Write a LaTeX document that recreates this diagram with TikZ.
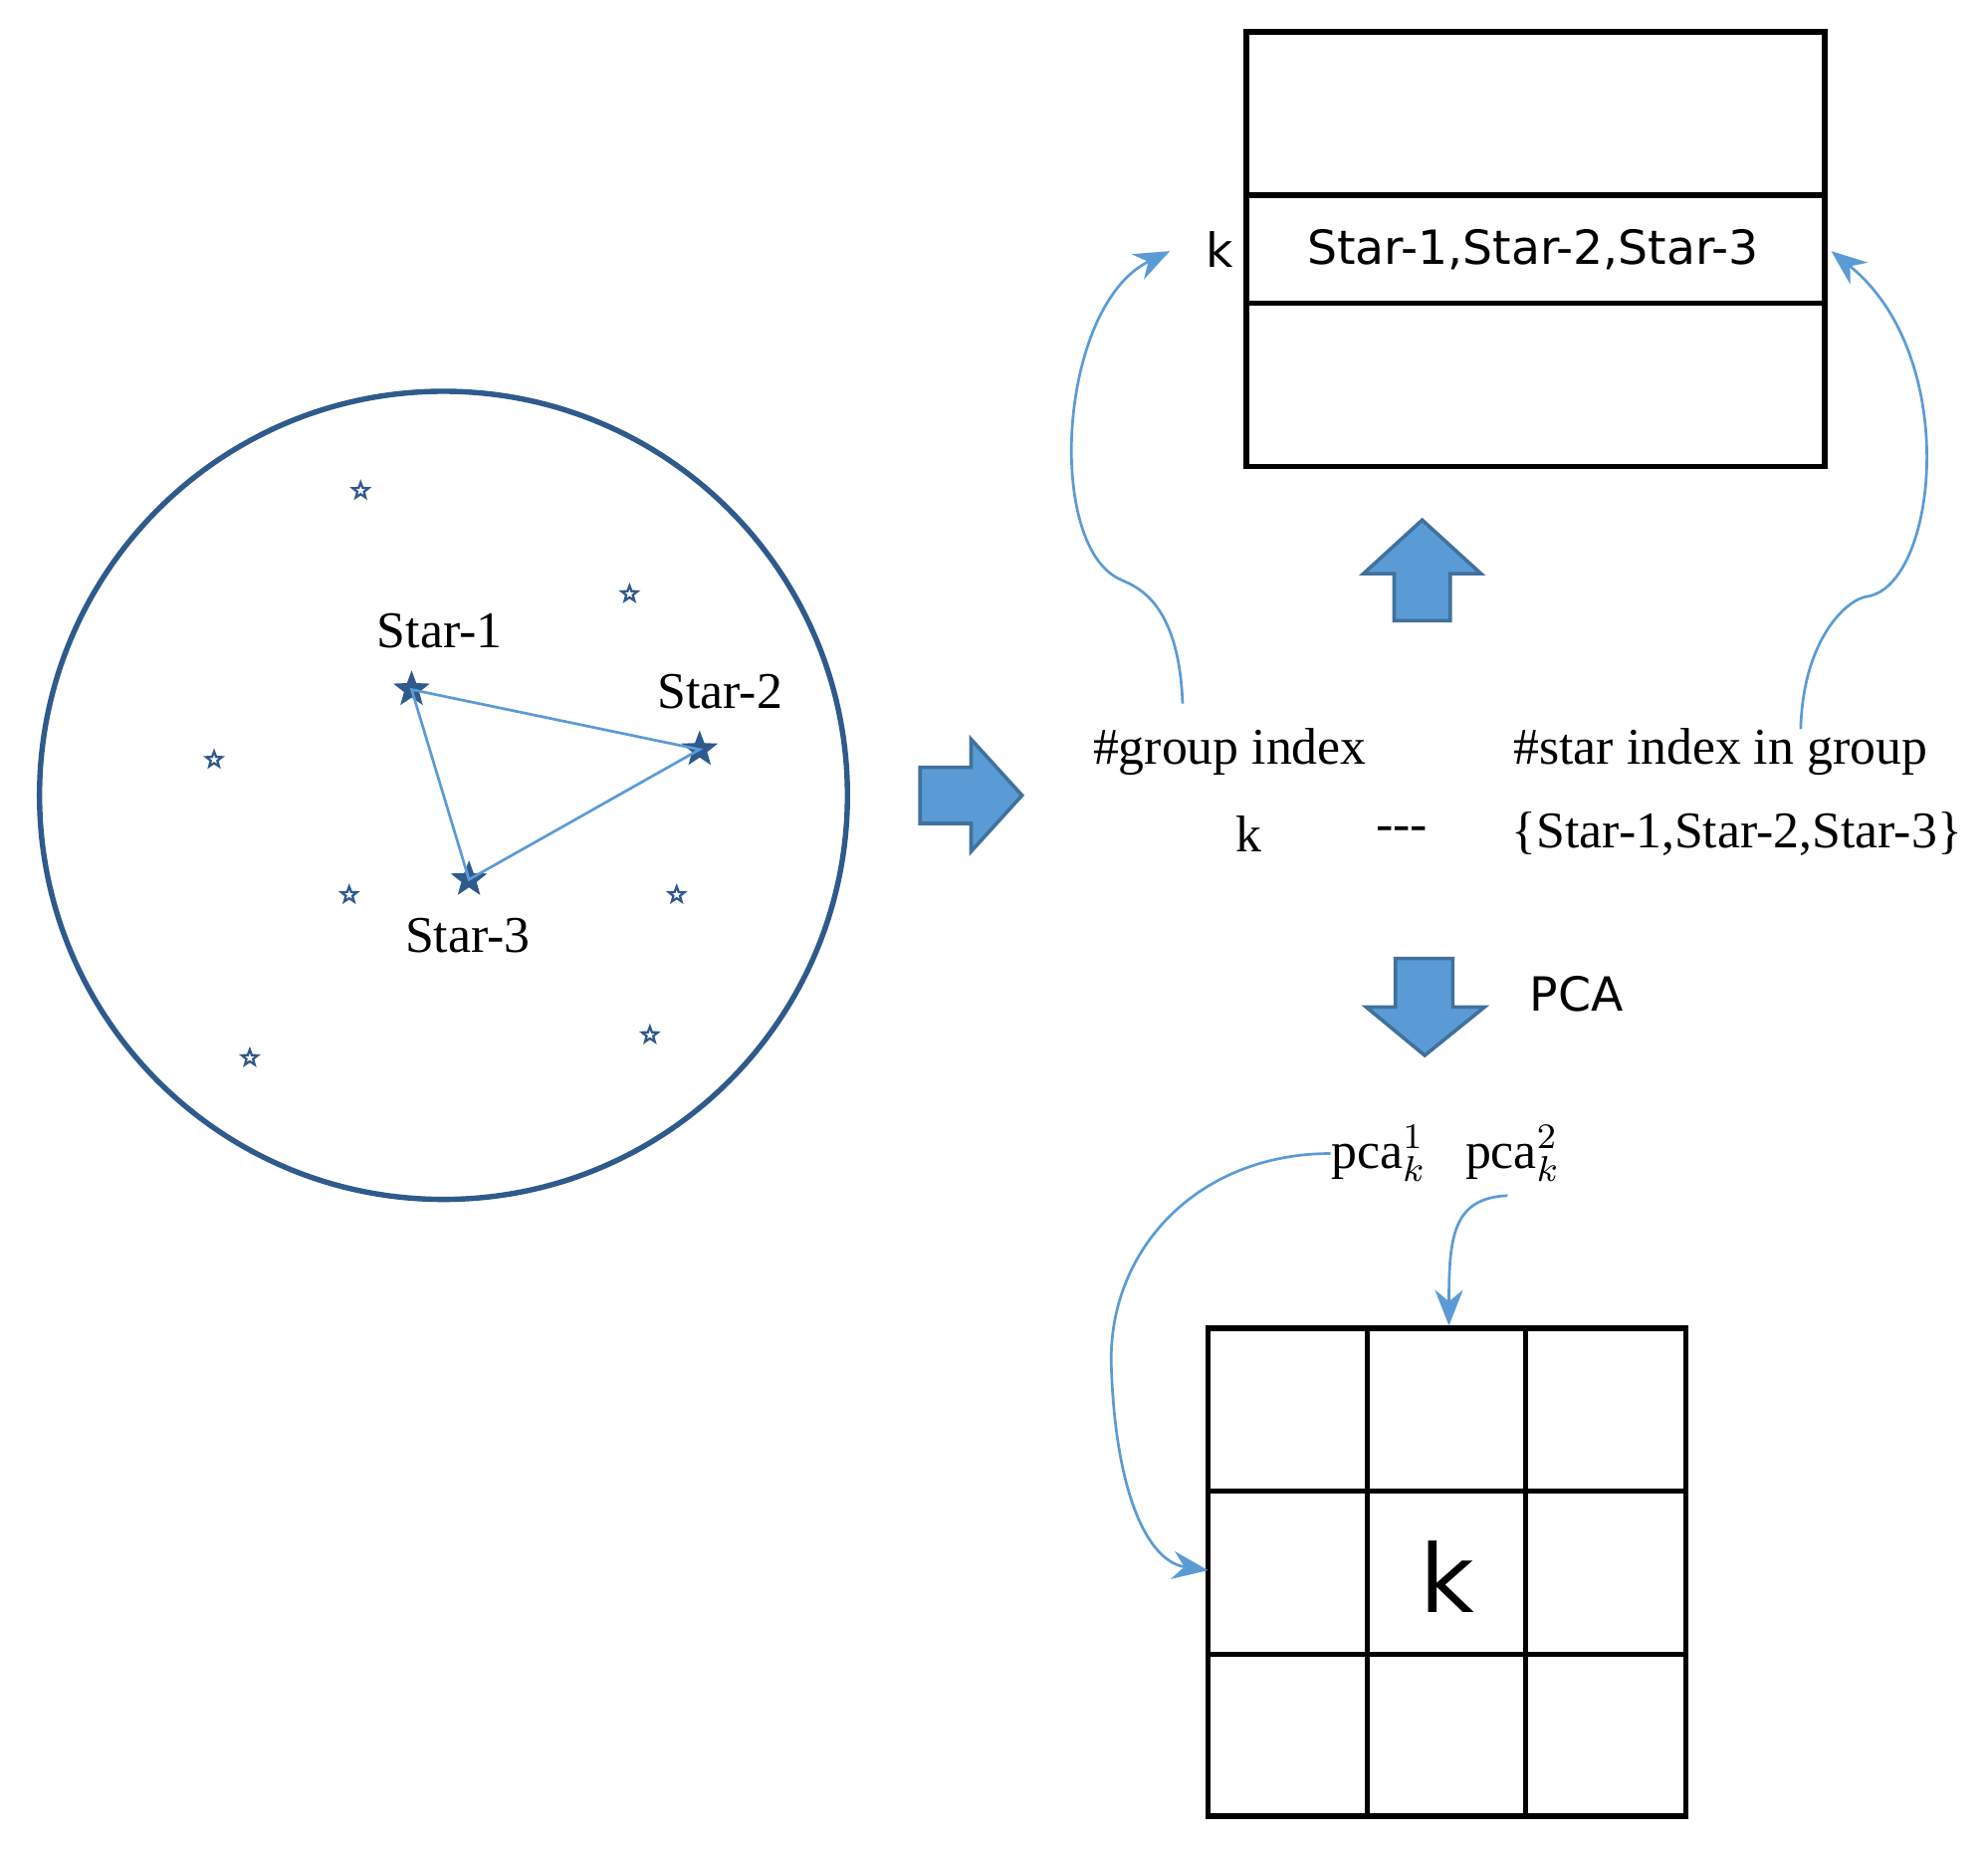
\documentclass[tikz,border=0pt]{standalone}
\usepackage{fontspec}
\setmainfont{Liberation Serif}
\newfontfamily\sansf{DejaVu Sans}
\usetikzlibrary{arrows.meta,shapes.geometric}
\definecolor{cdark}{RGB}{46,90,140}
\definecolor{clight}{RGB}{91,155,213}
\definecolor{cedge}{RGB}{65,113,156}
\tikzset{
 lbl/.style={font=\fontsize{11.5}{13}\selectfont, inner sep=0pt},
 slbl/.style={font=\sansf\fontsize{10.5}{12}\selectfont, inner sep=0pt},
 ostar/.style={star, star points=5, star point ratio=2.4, draw=cdark, line width=0.5pt, minimum size=0.13cm, inner sep=0pt},
 fstar/.style={star, star points=5, star point ratio=2.4, draw=cdark, fill=cdark, minimum size=0.26cm, inner sep=0pt},
 tri/.style={draw=clight, line width=0.6pt},
 curv/.style={draw=clight, line width=0.6pt, -{Stealth[length=0.28cm,width=0.22cm]}},
 blk/.style={fill=clight, draw=cedge, line width=0.8pt},
 gridl/.style={line width=1.2pt}
}
\begin{document}
\begin{tikzpicture}[x=0.01cm,y=-0.01cm]
\useasboundingbox (0,0) rectangle (1560,1452);
\draw[cdark, line width=1.2pt] (348,624) circle [radius=317];
\foreach \p [count=\i] in {(283,385),(494,466),(168,596),(274,702),(531,702),(510,812),(196,830)}
  \node[ostar] (o\i) at \p {};
\node[fstar] (s1) at (323,541) {};
\node[fstar] (s2) at (549,588) {};
\node[fstar] (s3) at (368,690) {};
\draw[tri] (s1.center) -- (s2.center) -- (s3.center) -- cycle;
\node[lbl] (l1) at (345,495) {Star-1};
\node[lbl] (l2) at (565,543) {Star-2};
\node[lbl] (l3) at (367,734) {Star-3};
\draw[blk] (722,602) -- (762,602) -- (762,580) -- (802,624) -- (762,668) -- (762,646) -- (722,646) -- cycle;
\draw[gridl] (978,25) rectangle (1432,366);
\draw[gridl] (978,153) -- (1432,153) (978,238) -- (1432,238);
\node[slbl] (tt) at (1203,196) {Star-1,Star-2,Star-3};
\node[slbl] (tk) at (957,196) {k};
\draw[blk] (1094,487) -- (1094,450) -- (1070,450) -- (1116,408) -- (1162,450) -- (1138,450) -- (1138,487) -- cycle;
\node[lbl] (gi) at (965,590) {\#group index};
\node[lbl] (si) at (1350,590) {\#star index in group};
\node[lbl] (kk) at (980,654) {k};
\node[lbl] (dd) at (1100,654) {{-}{-}{-}};
\node[lbl] (ss) at (1363,654) {\{Star-1,Star-2,Star-3\}};
\coordinate (la) at (918,197);
\coordinate (ra) at (1437,197);
\draw[curv] (928,552) .. controls (925,470) and (890,460) .. (880,455) .. controls (820,430) and (830,240) .. (la);
\draw[curv] (1413,572) .. controls (1415,500) and (1450,470) .. (1465,468) .. controls (1520,460) and (1540,280) .. (ra);
\draw[blk] (1095,752) -- (1140,752) -- (1140,790) -- (1165,790) -- (1118,828) -- (1072,790) -- (1095,790) -- cycle;
\node[slbl] (pca) at (1237,780) {PCA};
\node[lbl] (p1) at (1082,905) {pca$_k^1$};
\node[lbl] (p2) at (1187,905) {pca$_k^2$};
\draw[gridl] (948,1042) rectangle (1323,1425);
\draw[gridl] (1073,1042) -- (1073,1425) (1197,1042) -- (1197,1425)
 (948,1170) -- (1323,1170) (948,1298) -- (1323,1298);
\node[font=\sansf\fontsize{21}{24}\selectfont, inner sep=0pt] (gk) at (1136,1237) {k};
\coordinate (ga) at (948,1232);
\coordinate (gb) at (1137,1040);
\draw[curv] (p1.west) .. controls (940,905) and (870,980) .. (872,1070) .. controls (875,1170) and (900,1225) .. (ga);
\draw[curv] (1183,938) .. controls (1140,940) and (1137,970) .. (gb);
\end{tikzpicture}
\end{document}
